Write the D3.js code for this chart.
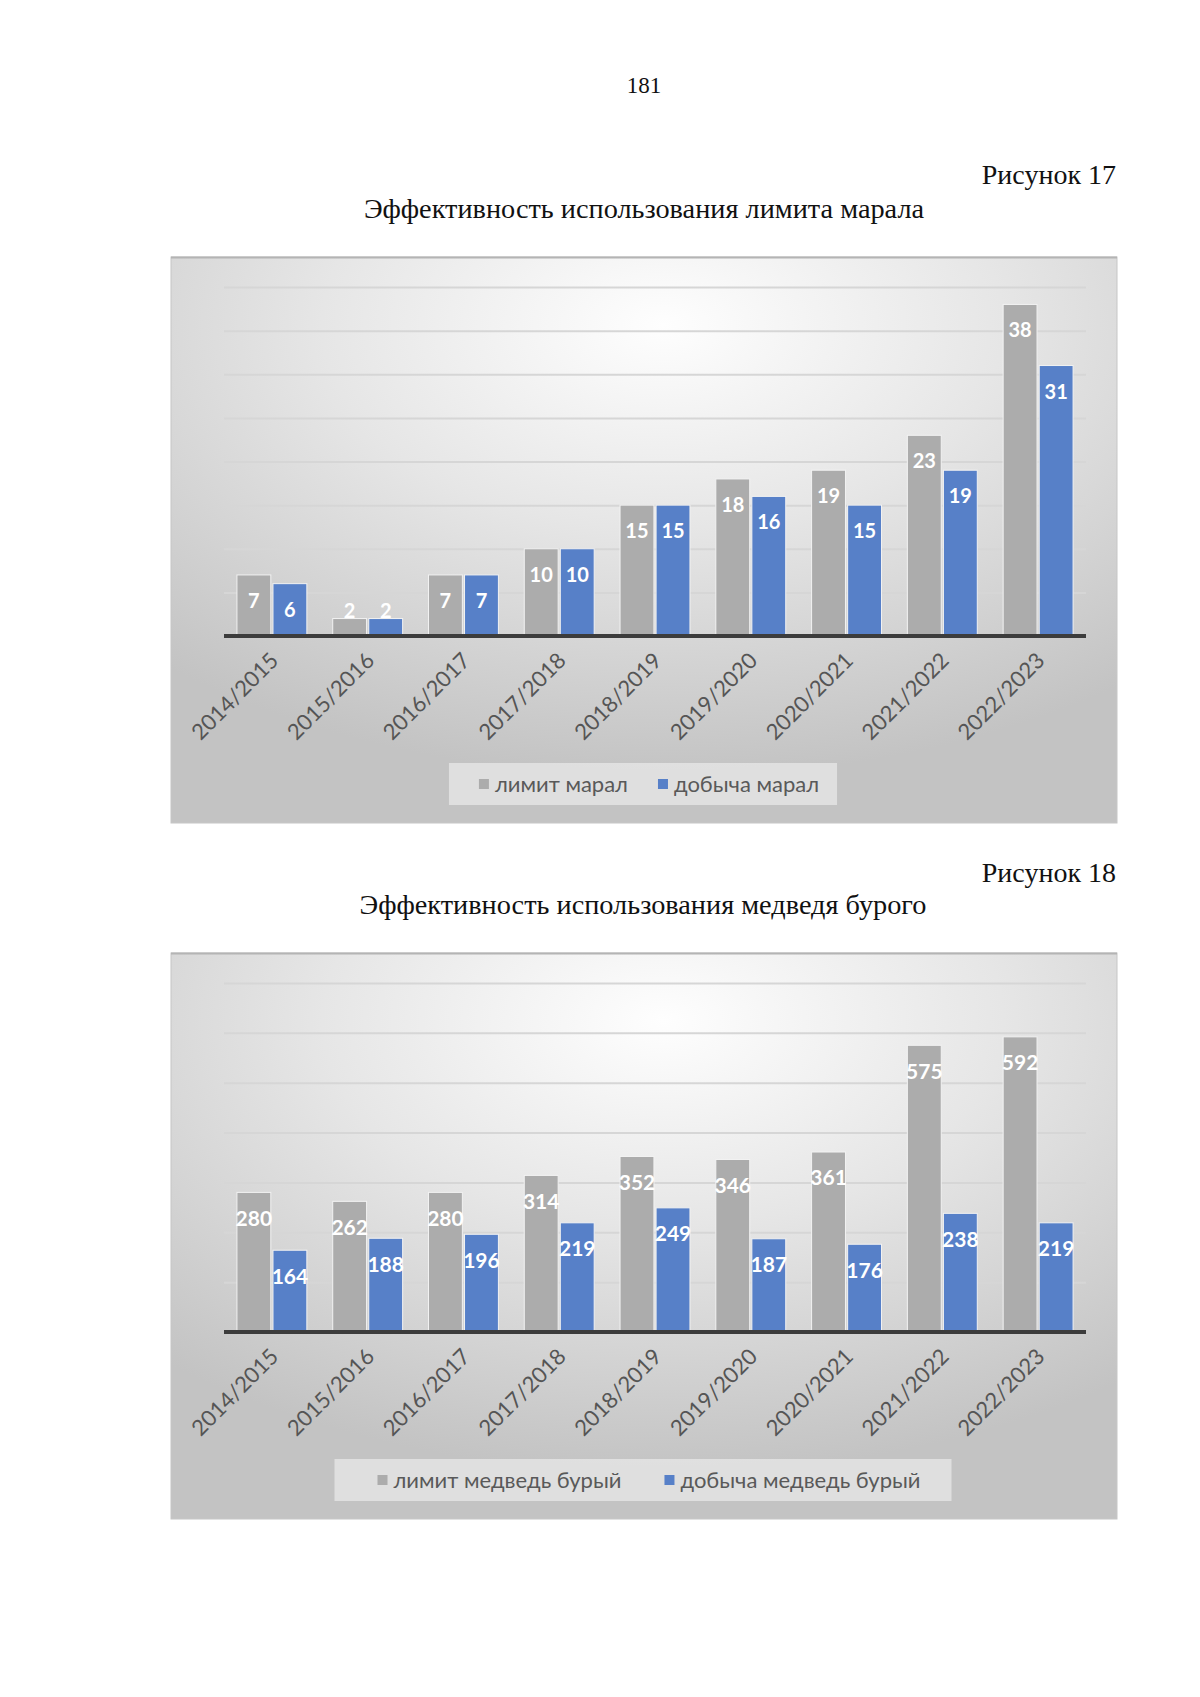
<!DOCTYPE html>
<html>
<head>
<meta charset="utf-8">
<script src="https://cdn.jsdelivr.net/npm/d3@7"></script>
<style>
  html, body { margin: 0; padding: 0; background: #fff; }
  svg { display: block; }
</style>
</head>
<body>
<div id="page"></div>
<script>
// seasons on the x axis (same for both figures)
var seasons = ['2014/2015', '2015/2016', '2016/2017', '2017/2018', '2018/2019',
               '2019/2020', '2020/2021', '2021/2022', '2022/2023'];

// figure 17: марал
var maralLimit   = [7, 2, 7, 10, 15, 18, 19, 23, 38];
var maralHarvest = [6, 2, 7, 10, 15, 16, 15, 19, 31];
var maralTicks   = [0, 5, 10, 15, 20, 25, 30, 35, 40];

// figure 18: медведь бурый
var bearLimit    = [280, 262, 280, 314, 352, 346, 361, 575, 592];
var bearHarvest  = [164, 188, 196, 219, 249, 187, 176, 238, 219];
var bearTicks    = [0, 100, 200, 300, 400, 500, 600, 700];

var W = 1200, H = 1697;
var svg = d3.select('#page').append('svg')
    .attr('width', W).attr('height', H);

svg.append('rect').attr('width', W).attr('height', H).attr('fill', '#fff');

var defs = svg.append('defs');
var bg = defs.append('radialGradient').attr('id', 'bg')
    .attr('cx', 0.52).attr('cy', 0.12).attr('r', 0.8);
bg.append('stop').attr('offset', 0).attr('stop-color', '#fefefe');
bg.append('stop').attr('offset', 0.45).attr('stop-color', '#e6e6e6');
bg.append('stop').attr('offset', 1).attr('stop-color', '#c3c3c3');

// page text (serif, like the document)
function pageText(txt, x, y, size, anchor) {
    svg.append('text')
        .attr('x', x).attr('y', y)
        .attr('text-anchor', anchor)
        .style('font-family', '"Liberation Serif", "Times New Roman", serif')
        .style('font-size', size + 'px')
        .attr('fill', '#111')
        .text(txt);
}

pageText('181', 644, 93, 23, 'middle');
pageText('Рисунок 17', 1116, 184, 28, 'end');
pageText('Эффективность использования лимита марала', 644, 218, 28.3, 'middle');
pageText('Рисунок 18', 1116, 882, 28, 'end');
pageText('Эффективность использования медведя бурого', 643, 914, 28.3, 'middle');

function drawChart(opt) {
    var g = svg.append('g');
    var left = 224, right = 1086;
    var top = opt.boxY + 30, bottom = opt.boxY + 379;

    g.append('rect')
        .attr('x', 171).attr('y', opt.boxY)
        .attr('width', 946).attr('height', 566)
        .attr('fill', 'url(#bg)')
        .attr('stroke', '#c6c6c6').attr('stroke-width', 1);
    g.append('line')
        .attr('x1', 171).attr('x2', 1117)
        .attr('y1', opt.boxY + 0.5).attr('y2', opt.boxY + 0.5)
        .attr('stroke', '#b4b4b4').attr('stroke-width', 2);

    var gid = 'grid' + opt.id;
    var gg = defs.append('linearGradient').attr('id', gid)
        .attr('gradientUnits', 'userSpaceOnUse')
        .attr('x1', 0).attr('x2', 0).attr('y1', top).attr('y2', bottom);
    gg.append('stop').attr('offset', 0).attr('stop-color', '#d6d6d6');
    gg.append('stop').attr('offset', 1).attr('stop-color', '#767676');

    var y = d3.scaleLinear()
        .domain([0, opt.ticks[opt.ticks.length - 1]])
        .range([bottom, top]);

    var x = d3.scaleBand()
        .domain(seasons)
        .range([left, right])
        .paddingInner(0.27)
        .paddingOuter(0.135);

    var xs = d3.scaleBand()
        .domain(['limit', 'harvest'])
        .range([0, x.bandwidth()])
        .paddingInner(0.06);

    // gridlines
    var grid = g.append('g')
        .attr('transform', 'translate(' + left + ',0)')
        .call(d3.axisLeft(y).tickValues(opt.ticks.slice(1)).tickSize(-(right - left)).tickFormat(''));
    grid.select('.domain').remove();
    grid.selectAll('line')
        .attr('stroke', 'url(#' + gid + ')')
        .attr('stroke-width', 2);

    var rows = seasons.map(function (s, i) {
        return { season: s, limit: opt.limit[i], harvest: opt.harvest[i] };
    });
    var series = [
        { key: 'limit', color: '#acacac' },
        { key: 'harvest', color: '#5780c8' }
    ];

    var groups = g.selectAll('.grp').data(rows).enter().append('g')
        .attr('transform', function (d) { return 'translate(' + x(d.season) + ',0)'; });

    series.forEach(function (s) {
        groups.append('rect')
            .attr('x', xs(s.key))
            .attr('y', function (d) { return y(d[s.key]); })
            .attr('width', xs.bandwidth())
            .attr('height', function (d) { return bottom - y(d[s.key]); })
            .attr('fill', s.color)
            .attr('stroke', '#f2f2f2').attr('stroke-width', 1);
    });

    series.forEach(function (s) {
        groups.append('text')
            .attr('x', xs(s.key) + xs.bandwidth() / 2)
            .attr('y', function (d) { return Math.min(y(d[s.key]) + 26, bottom - 25); })
            .attr('dy', '0.35em')
            .attr('text-anchor', 'middle')
            .style('font-family', 'Lato, "Open Sans", sans-serif')
            .style('font-weight', 'bold')
            .style('font-size', opt.labelSize + 'px')
            .attr('fill', '#fff')
            .text(function (d) { return d[s.key]; });
    });

    // category axis
    var ax = g.append('g')
        .attr('transform', 'translate(0,' + bottom + ')')
        .call(d3.axisBottom(x).tickSize(0).tickPadding(0));
    ax.select('.domain').remove();
    ax.selectAll('text')
        .attr('y', 0).attr('dy', 0)
        .attr('text-anchor', 'end')
        .attr('transform', 'translate(8,26) rotate(-45)')
        .style('font-family', 'Lato, "Open Sans", sans-serif')
        .style('font-size', '22px')
        .attr('fill', '#555');

    g.append('line')
        .attr('x1', left).attr('x2', right)
        .attr('y1', bottom).attr('y2', bottom)
        .attr('stroke', '#3c3c3c').attr('stroke-width', 4);

    // legend
    var lg = g.append('g');
    var ly = opt.boxY + 527;
    var items = lg.selectAll('.it').data(opt.legend).enter().append('g');
    items.append('text')
        .attr('y', ly).attr('dy', '0.35em')
        .style('font-family', 'Lato, "Open Sans", sans-serif')
        .style('font-size', '22px')
        .attr('fill', '#595959')
        .text(function (d) { return d; });
    var widths = [];
    items.select('text').each(function () { widths.push(this.getComputedTextLength()); });
    var mark = 10, gap = 6;
    var total = opt.padL + opt.padR + widths.length * (mark + gap) + d3.sum(widths) + opt.between * (widths.length - 1);
    var lx = 643 - total / 2;
    lg.insert('rect', ':first-child')
        .attr('x', lx).attr('y', ly - 21)
        .attr('width', total).attr('height', 42)
        .attr('fill', '#f2f2f2').attr('opacity', 0.6);
    var cx = lx + opt.padL;
    items.each(function (d, i) {
        var it = d3.select(this);
        it.insert('rect', ':first-child')
            .attr('x', cx).attr('y', ly - 5)
            .attr('width', mark).attr('height', mark)
            .attr('fill', series[i].color);
        it.select('text').attr('x', cx + mark + gap);
        cx += mark + gap + widths[i] + opt.between;
    });
}

drawChart({
    id: 1, boxY: 257,
    limit: maralLimit, harvest: maralHarvest, ticks: maralTicks,
    labelSize: 20,
    legend: ['лимит марал', 'добыча марал'],
    padL: 30, between: 30, padR: 18
});

drawChart({
    id: 2, boxY: 953,
    limit: bearLimit, harvest: bearHarvest, ticks: bearTicks,
    labelSize: 21,
    legend: ['лимит медведь бурый', 'добыча медведь бурый'],
    padL: 43, between: 43, padR: 31
});
</script>
</body>
</html>
